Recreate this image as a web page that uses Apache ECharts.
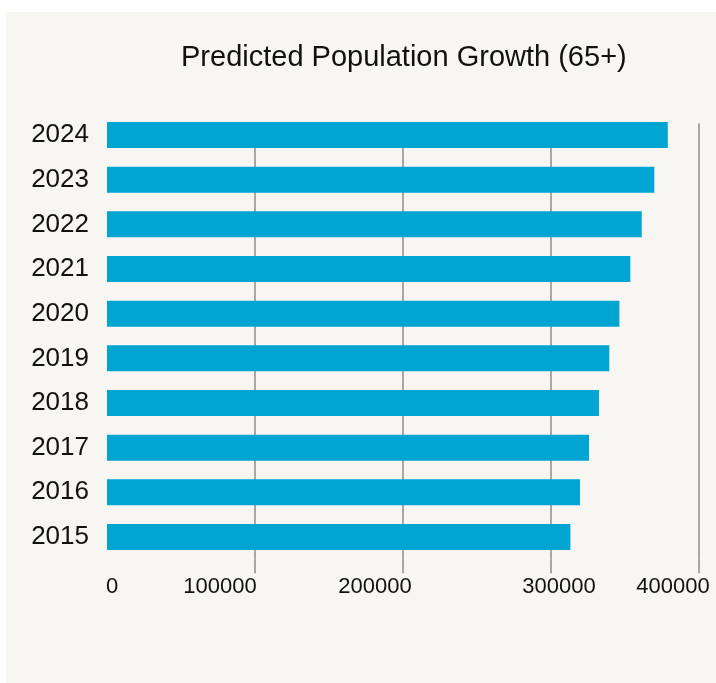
<!DOCTYPE html>
<html>
<head>
<meta charset="utf-8">
<script src="https://cdn.jsdelivr.net/npm/echarts@6/dist/echarts.min.js"></script>
<style>
    html, body {
        margin: 0;
        padding: 0;
        background: #ffffff;
    }

    #chart {
        width: 716px;
        height: 683px;
    }
</style>
</head>
<body>
<div id="chart"></div>
<script>
// years, bottom to top
const years = ['2015', '2016', '2017', '2018', '2019', '2020', '2021', '2022', '2023', '2024'];
// predicted population aged 65+
const population = [313100, 319600, 325700, 332400, 339400, 346200, 353600, 361300, 369800, 378900];
const xTicks = [0, 100000, 200000, 300000, 400000];

// the original hand-placed its tick labels a little off the gridlines
const labelShift = { 0: 'r5', 100000: 'l35', 200000: 'l28', 300000: 'r8', 400000: 'l26' };
const rich = {};
Object.keys(labelShift).forEach(k => {
    const s = labelShift[k];
    const px = Number(s.slice(1)) * 2;
    rich['t' + k] = {
        fontSize: 22,
        color: '#111111',
        fontFamily: 'Liberation Sans',
        padding: s[0] === 'l' ? [0, px, 0, 0] : [0, 0, 0, px]
    };
});

const panelColor = '#f7f6f2';
const chart = echarts.init(document.getElementById('chart'));

const option = {
    backgroundColor: '#ffffff',
    animation: false,
    textStyle: {
        fontFamily: 'Liberation Sans'
    },
    graphic: [
        {
            type: 'rect',
            z: -10,
            silent: true,
            shape: { x: 6, y: 12, width: 710, height: 671 },
            style: { fill: panelColor }
        },
        // gridlines start just under the top of the first bar
        {
            type: 'rect',
            z: 1,
            silent: true,
            shape: { x: 108, y: 110, width: 600, height: 13.5 },
            style: { fill: panelColor }
        }
    ],
    title: {
        text: 'Predicted Population Growth (65+)',
        left: 181,
        top: 43,
        padding: 0,
        textStyle: {
            fontFamily: 'Liberation Sans',
            fontSize: 29,
            fontWeight: 'normal',
            color: '#111111'
        }
    },
    grid: {
        left: 107,
        right: 17,
        top: 112.7,
        bottom: 123.7,
        containLabel: false,
        outerBoundsMode: 'none'
    },
    xAxis: {
        type: 'value',
        min: xTicks[0],
        max: xTicks[xTicks.length - 1],
        interval: 100000,
        axisLine: { show: false },
        axisTick: {
            show: true,
            length: 14,
            customValues: xTicks.slice(1),
            lineStyle: { color: '#8c8c8c', width: 1.5 }
        },
        splitLine: {
            show: true,
            lineStyle: { color: '#8c8c8c', width: 1.5 }
        },
        axisLabel: {
            margin: 17,
            fontSize: 22,
            color: '#111111',
            fontFamily: 'Liberation Sans',
            formatter: (v) => '{t' + v + '|' + v + '}',
            rich: rich
        }
    },
    yAxis: {
        type: 'category',
        data: years,
        axisLine: { show: false },
        axisTick: { show: false },
        axisLabel: {
            margin: 18,
            fontSize: 26,
            color: '#111111',
            fontFamily: 'Liberation Sans'
        }
    },
    series: [
        {
            name: 'Population 65+',
            type: 'bar',
            data: population,
            barWidth: 26,
            z: 3,
            itemStyle: {
                color: '#02a5d1'
            }
        }
    ]
};

chart.setOption(option);
</script>
</body>
</html>
